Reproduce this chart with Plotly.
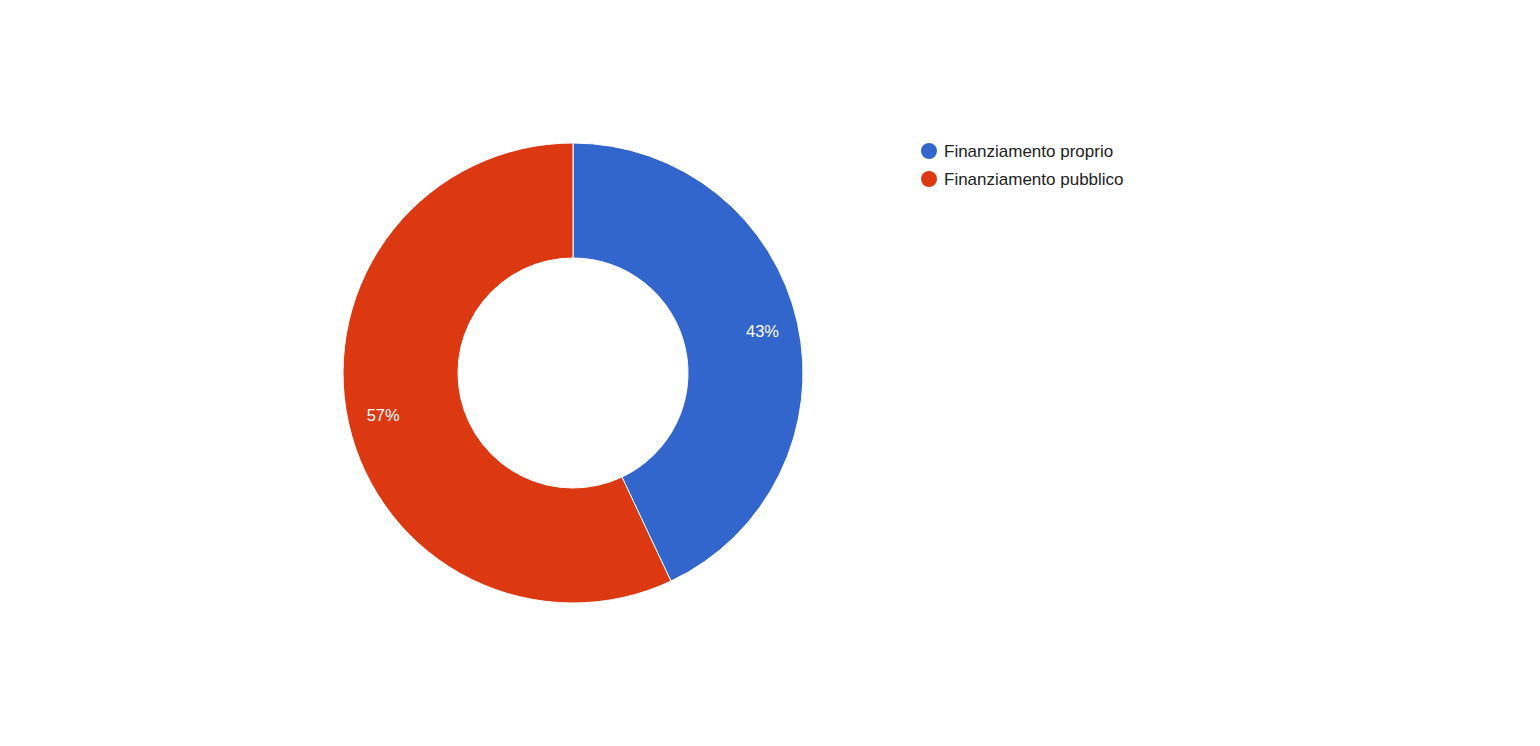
import plotly.graph_objects as go

labels = ["Finanziamento proprio", "Finanziamento pubblico"]
values = [43, 57]
colors = ["#3366CC", "#DC3912"]

W, H = 1540, 746
OFF = 8  # page body margin
cx, cy, R = 573 - OFF, 373 - OFF, 230
FONT = "Liberation Sans, Arial, sans-serif"
dom = dict(x=[(cx - R) / W, (cx + R) / W], y=[(H - cy - R) / H, (H - cy + R) / H])

fig = go.Figure()
fig.add_trace(go.Pie(
    labels=labels, values=values, hole=0.5, sort=False,
    direction="clockwise", rotation=0,
    marker=dict(colors=colors, line=dict(color="white", width=1)),
    textinfo="none", showlegend=False,
    hoverinfo="label+value+percent", domain=dom,
))
# label layer (transparent ring) so percentages sit in the outer part of the ring
fig.add_trace(go.Pie(
    labels=labels, values=values, hole=0.69, sort=False,
    direction="clockwise", rotation=0,
    marker=dict(colors=["rgba(0,0,0,0)"] * len(values), line=dict(width=0)),
    textinfo="percent", texttemplate="%{percent:.0%}",
    textposition="inside", insidetextorientation="horizontal",
    textfont=dict(family=FONT, size=16.5, color="white"),
    showlegend=False, hoverinfo="skip", domain=dom,
))

shapes = []
annotations = []
leg_x, leg_y0, leg_dy, r = 929 - OFF, 151 - OFF, 28, 8
for i, (lab, col) in enumerate(zip(labels, colors)):
    y = leg_y0 + i * leg_dy
    shapes.append(dict(type="circle", xref="paper", yref="paper",
                       x0=(leg_x - r) / W, x1=(leg_x + r) / W,
                       y0=(H - y - r) / H, y1=(H - y + r) / H,
                       fillcolor=col, line=dict(width=0)))
    annotations.append(dict(text=lab, xref="paper", yref="paper",
                            x=(942 - OFF) / W, y=(H - y) / H, xanchor="left", yanchor="middle",
                            showarrow=False,
                            font=dict(family=FONT, size=17, color="#222222")))

fig.update_layout(
    width=W, height=H,
    margin=dict(l=0, r=0, t=0, b=0),
    paper_bgcolor="white", plot_bgcolor="white",
    shapes=shapes, annotations=annotations,
)

fig.write_html("out.html")
